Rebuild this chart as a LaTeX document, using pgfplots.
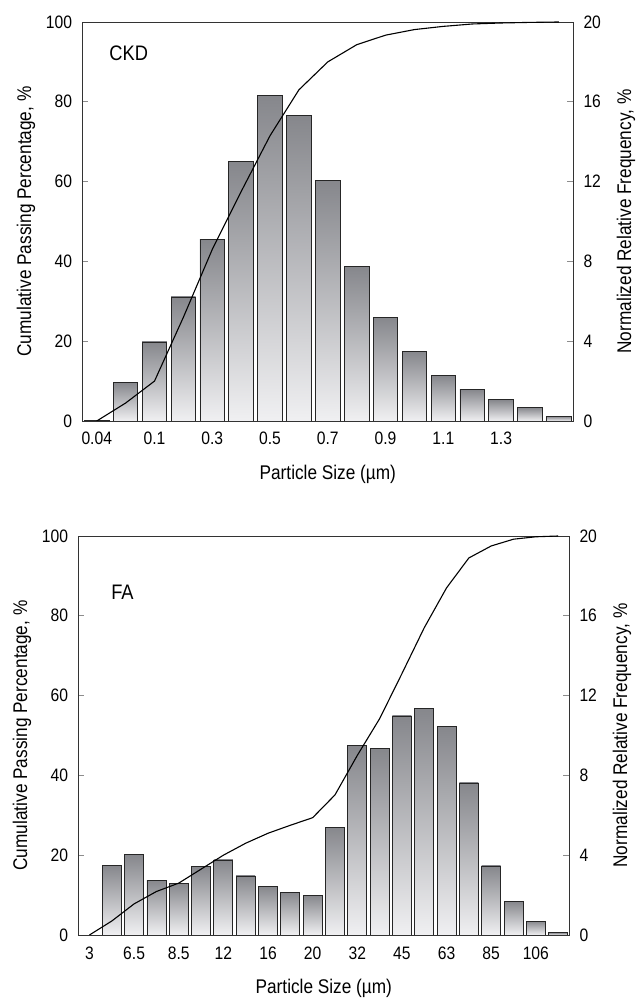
\documentclass[border=0pt]{standalone}
\usepackage{fontspec}
\setmainfont{Liberation Sans}[FakeStretch=0.87]
\usepackage{pgfplots}
\usepackage{pgfplotstable}
\pgfplotsset{compat=1.18}

\definecolor{bartop}{RGB}{134,135,140}
\definecolor{barbot}{RGB}{240,240,242}

% CKD: bin index, relative frequency (right axis), cumulative passing (left axis)
\pgfplotstableread{
k  freq   cum
0  0.05   0
1  1.93   4.5
2  3.96   10
3  6.22   26
4  9.10   43
5  13.0   57.5
6  16.3   71.5
7  15.3   83
8  12.05  90
9  7.74   94.3
10 5.20   96.7
11 3.48   98.1
12 2.28   98.9
13 1.58   99.5
14 1.06   99.75
15 0.68   99.9
16 0.24   100
}\ckd

% FA
\pgfplotstableread{
k  freq   cum
0  0      0
1  3.50   3.5
2  4.02   7.8
3  2.75   10.9
4  2.60   13.0
5  3.43   16.5
6  3.76   20.0
7  2.96   23.0
8  2.43   25.5
9  2.15   27.5
10 2.00   29.4
11 5.40   35.1
12 9.48   45.0
13 9.35   54.2
14 10.98  65.5
15 11.34  77.0
16 10.46  87.0
17 7.62   94.5
18 3.46   97.5
19 1.69   99.2
20 0.70   99.8
21 0.12   100
}\fa

\pgfplotsset{
  psd/.style={
    scale only axis, width=491pt, height=399pt,
    anchor=south west,
    axis line style={black!80, line width=0.7pt},
    tick style={black!45, line width=0.6pt},
    tick align=inside, major tick length=6pt,
    xtick style={draw=none},
    /pgf/number format/assume math mode=true,
    ticklabel style={font=\fontsize{18}{20}\selectfont},
    label style={font=\fontsize{19.8}{22}\selectfont},
    xticklabel style={anchor=base, yshift=-24pt, inner sep=0pt},
    xlabel style={at={(axis description cs:0.5,-0.1454)}, anchor=base},
  },
  freqaxis/.style={psd,
    ymin=0, ymax=20, ytick={0,4,...,20},
    ytick pos=right, yticklabel pos=right,
    yticklabel style={anchor=west, inner sep=0pt, xshift=10pt},
    ylabel={Normalized Relative Frequency, \%},
    ylabel style={at={(axis description cs:1.118,0.5)}, anchor=base},
    xlabel={Particle Size (µm)},
  },
  cumaxis/.style={psd,
    ymin=0, ymax=100, ytick={0,20,...,100},
    ytick pos=left, xtick=\empty,
    yticklabel style={anchor=east, inner sep=0pt, xshift=-10pt},
    ylabel={Cumulative Passing Percentage, \%},
    ylabel style={at={(axis description cs:-0.104,0.5)}, anchor=base},
  },
  bars/.style={ybar, bar width=0.85, bar shift=0pt,
    draw=black!85, line width=0.8pt, top color=bartop, bottom color=barbot},
  cumline/.style={black, line width=1.1pt, mark=none},
}

\begin{document}
\begin{tikzpicture}
\useasboundingbox (0,0) rectangle (643pt,998pt);

% ---- CKD ----
\begin{axis}[freqaxis, at={(82.3pt,577pt)}, xmin=-0.5, xmax=16.5,
    xtick={0,2,...,14},
    xticklabels={0.04,0.1,0.3,0.5,0.7,0.9,1.1,1.3}]
% one plot per bar, so that each bar gets its own top-to-bottom shading
\pgfplotsinvokeforeach{0,...,16}{
  \addplot[bars, x filter/.expression={x==#1 ? x : nan}]
    table[x=k, y=freq] {\ckd};
}
\end{axis}
\begin{axis}[cumaxis, at={(82.3pt,577pt)}, xmin=-0.5, xmax=16.5]
\addplot[cumline] table[x=k, y=cum] {\ckd};
\node[anchor=base west, font=\fontsize{21}{24}\selectfont]
  at (axis description cs:0.048,0.903) {CKD};
\end{axis}

% ---- FA ----
\begin{axis}[freqaxis, at={(78.3pt,63pt)}, xmin=-0.5, xmax=21.5,
    xtick={0,2,...,20},
    xticklabels={3,6.5,8.5,12,16,20,32,45,63,85,106}]
\pgfplotsinvokeforeach{1,...,21}{
  \addplot[bars, x filter/.expression={x==#1 ? x : nan}]
    table[x=k, y=freq] {\fa};
}
\end{axis}
\begin{axis}[cumaxis, at={(78.3pt,63pt)}, xmin=-0.5, xmax=21.5]
\addplot[cumline] table[x=k, y=cum] {\fa};
\node[anchor=base west, font=\fontsize{21}{24}\selectfont]
  at (axis description cs:0.06,0.84) {FA};
\end{axis}
\end{tikzpicture}
\end{document}
